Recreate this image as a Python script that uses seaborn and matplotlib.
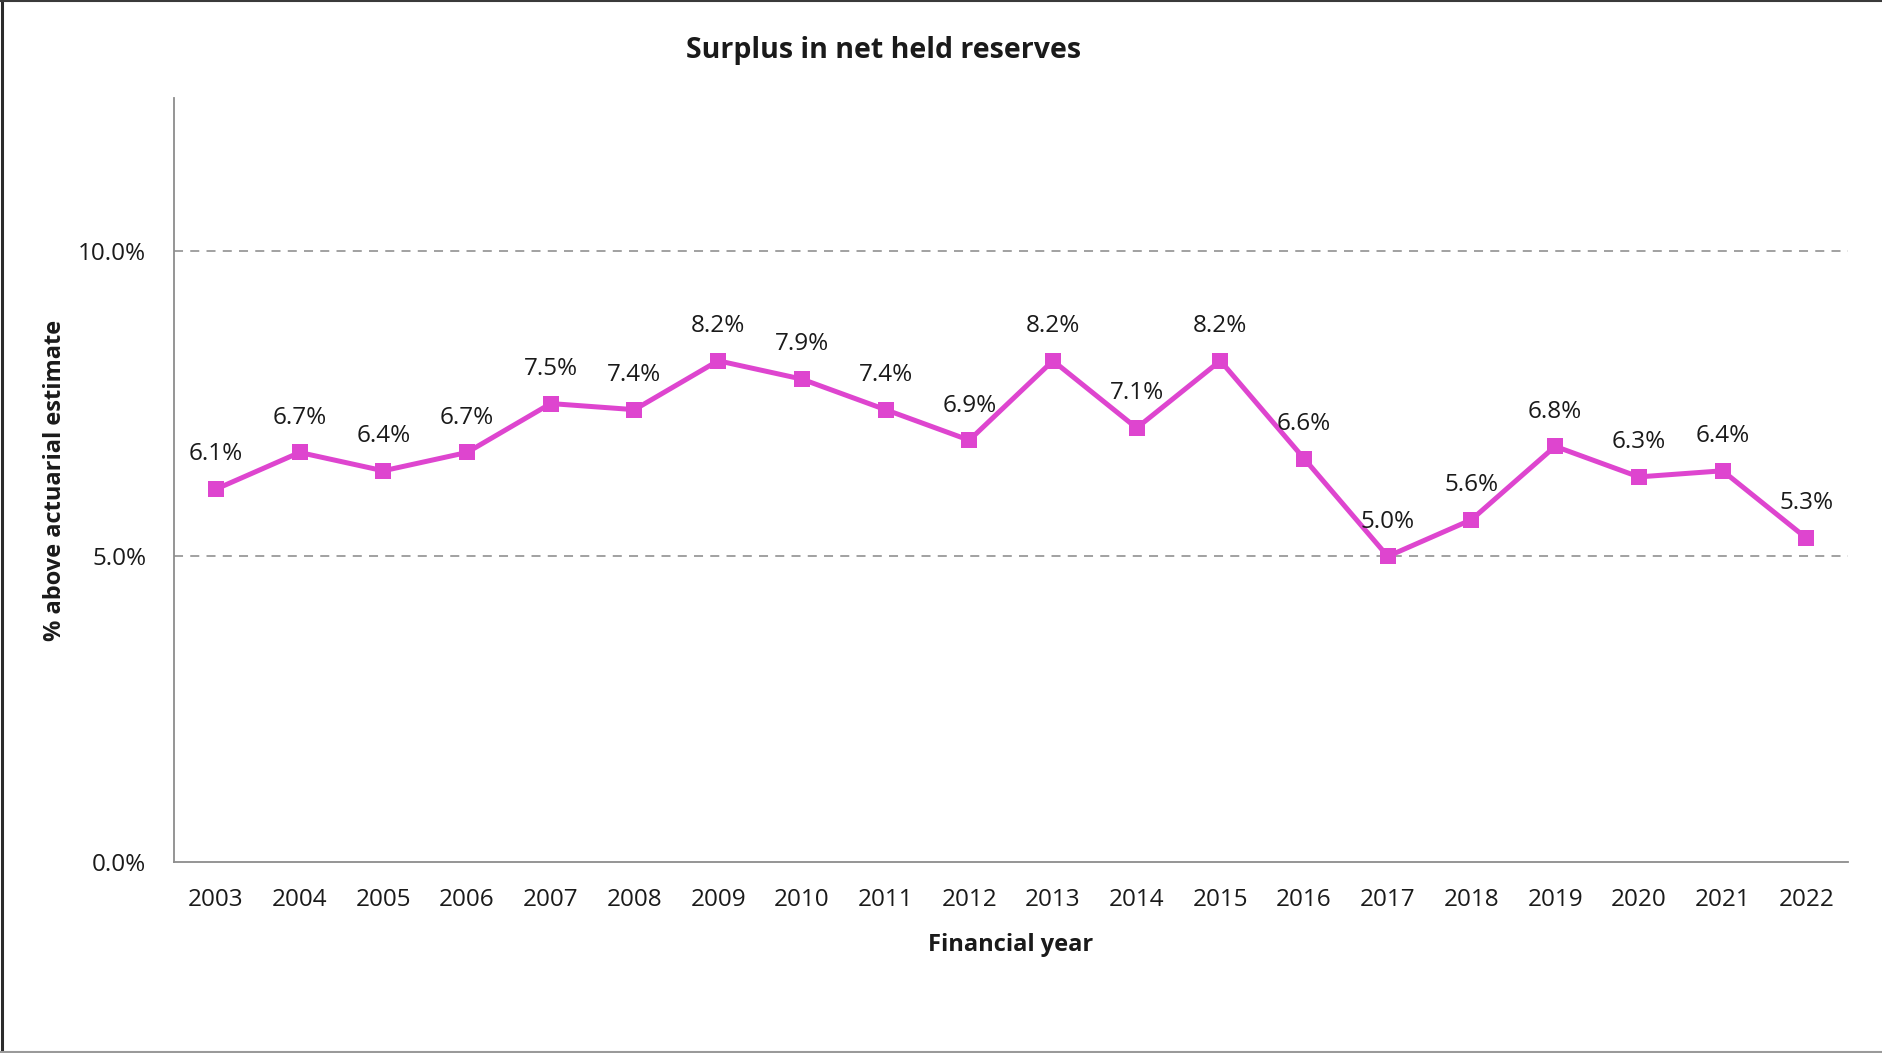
import matplotlib
matplotlib.use("Agg")
import matplotlib.pyplot as plt
import seaborn as sns
import pandas as pd
import numpy as np
from matplotlib.lines import Line2D
from matplotlib.ticker import FixedLocator

# Data
years = ["2003", "2004", "2005", "2006", "2007", "2008", "2009", "2010", "2011", "2012",
         "2013", "2014", "2015", "2016", "2017", "2018", "2019", "2020", "2021", "2022"]
surplus = [6.1, 6.7, 6.4, 6.7, 7.5, 7.4, 8.2, 7.9, 7.4, 6.9,
           8.2, 7.1, 8.2, 6.6, 5.0, 5.6, 6.8, 6.3, 6.4, 5.3]
y_ticks = [0.0, 5.0, 10.0]

LINE_COLOR = "#DE45CF"
AXIS_GREY = "#8C8C8C"
TXT = "#1a1a1a"
FS = 17.5

sns.set_style("white")
plt.rcParams["font.family"] = ["Open Sans", "DejaVu Sans"]

df = pd.DataFrame({"pos": np.arange(len(years)), "Year": years, "Surplus": surplus})

fig = plt.figure(figsize=(18.82, 10.53), dpi=100)
ax = fig.add_axes([0.0925, 0.1814, 0.8895, 0.7256])

sns.lineplot(data=df, x="pos", y="Surplus", ax=ax, color=LINE_COLOR, linewidth=3.6,
             marker="s", markersize=11.5, markeredgewidth=0, markerfacecolor=LINE_COLOR)

# data labels above each point
for x, v in zip(df["pos"], df["Surplus"]):
    ax.annotate(f"{v:.1f}%", (x, v), xytext=(0, 25), textcoords="offset points",
                ha="center", va="center", fontsize=FS, color=TXT)

ax.set_xlim(-0.5, len(years) - 0.5)
ax.set_ylim(0, 12.5)

# category labels centred, tick marks on category boundaries (Excel style)
ax.set_xticks(df["pos"])
ax.set_xticklabels(years, fontsize=FS, color=TXT)
ax.xaxis.set_minor_locator(FixedLocator(np.arange(-0.5, len(years), 1.0)))
ax.tick_params(axis="x", which="major", length=0, pad=19)
ax.tick_params(axis="x", which="minor", length=7, width=1.2, color=AXIS_GREY, direction="out")

ax.set_yticks(y_ticks)
ax.set_yticklabels([f"{t:.1f}%" for t in y_ticks], fontsize=FS, color=TXT)
ax.tick_params(axis="y", length=0, pad=20)

for t in [5.0, 10.0]:
    ax.axhline(t, color="#9A9A9A", linestyle=(0, (5, 4)), linewidth=1.3, zorder=0)

for side in ["top", "right"]:
    ax.spines[side].set_visible(False)
for side in ["left", "bottom"]:
    ax.spines[side].set_color(AXIS_GREY)
    ax.spines[side].set_linewidth(1.3)

ax.set_xlabel("Financial year", fontsize=17, fontweight="bold", color=TXT, labelpad=15)
ax.set_ylabel("% above actuarial estimate", fontsize=17, fontweight="bold", color=TXT, labelpad=8)

fig.text(0.4695, 0.952, "Surplus in net held reserves", ha="center", va="center",
         fontsize=20.5, fontweight="bold", color=TXT)

# outer frame: dark top/left, grey bottom
fig.add_artist(Line2D([0.0008, 0.0008], [0, 1], transform=fig.transFigure, color="#2b2b2b", linewidth=2.2))
fig.add_artist(Line2D([0, 1], [0.9992, 0.9992], transform=fig.transFigure, color="#3a3a3a", linewidth=1.5))
fig.add_artist(Line2D([0, 1], [0.0008, 0.0008], transform=fig.transFigure, color="#9A9A9A", linewidth=1.5))

fig.savefig("out.png", dpi=100)
plt.close(fig)
